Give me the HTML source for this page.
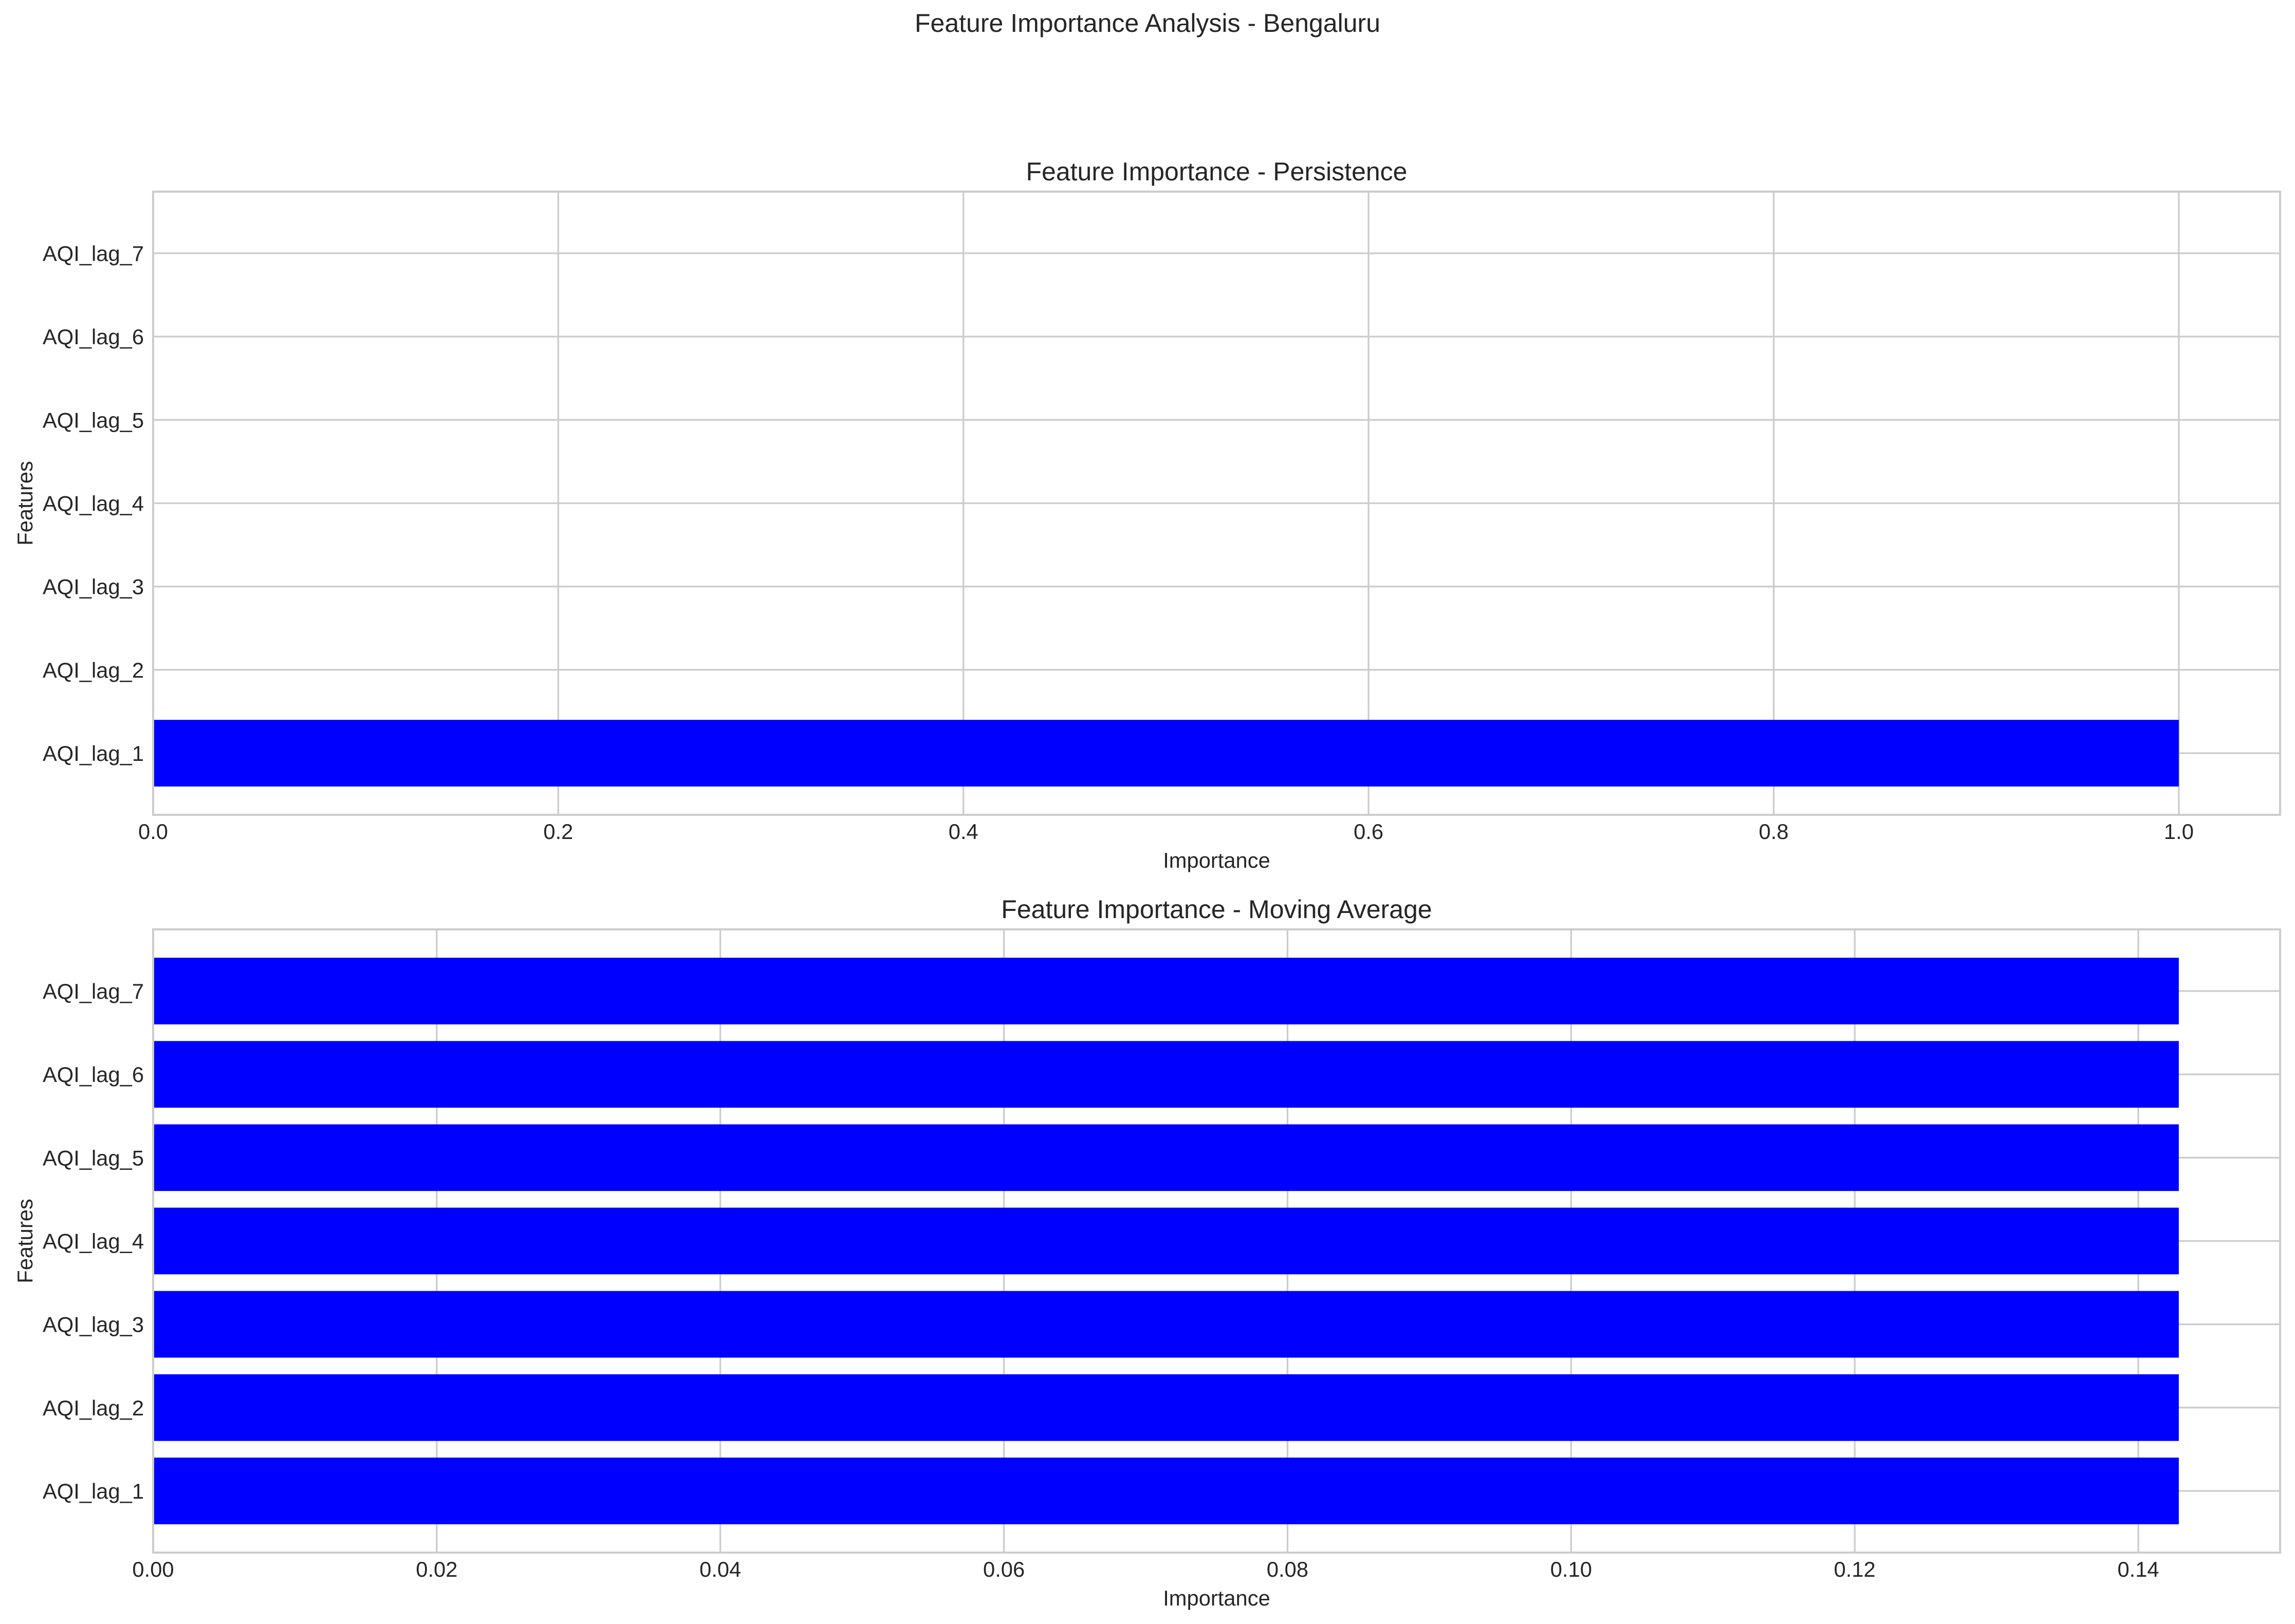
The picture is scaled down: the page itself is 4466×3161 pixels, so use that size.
<!DOCTYPE html>
<html><head><meta charset="utf-8"><style>
html,body{margin:0;padding:0;background:#fff;}
svg{display:block;font-family:"Liberation Sans",sans-serif;}
</style></head><body>
<svg id="fig" width="4466" height="3161" viewBox="0 0 4466 3161" xmlns="http://www.w3.org/2000/svg">
<rect width="4466" height="3161" fill="#fff"/>
<text x="2233" y="62" text-anchor="middle" font-size="50" fill="#262626">Feature Importance Analysis - Bengaluru</text>
</svg>
<script>
const categories = ["AQI_lag_1","AQI_lag_2","AQI_lag_3","AQI_lag_4","AQI_lag_5","AQI_lag_6","AQI_lag_7"];
const persistenceValues = [1.0,0,0,0,0,0,0];
const movingAvgValues = [0.142857,0.142857,0.142857,0.142857,0.142857,0.142857,0.142857];
const persistenceTicks = [0.0,0.2,0.4,0.6,0.8,1.0];
const persistenceTickLabels = ["0.0","0.2","0.4","0.6","0.8","1.0"];
const movingAvgTicks = [0,0.02,0.04,0.06,0.08,0.10,0.12,0.14];
const movingAvgTickLabels = ["0.00","0.02","0.04","0.06","0.08","0.10","0.12","0.14"];

const NS="http://www.w3.org/2000/svg";
const svg=document.getElementById('fig');
function mk(tag,attrs,parent){const e=document.createElementNS(NS,tag);for(const k in attrs)e.setAttribute(k,attrs[k]);(parent||svg).appendChild(e);return e;}

function panel(id,title,vals,ticks,tickLabels,xmax,top,bottom){
  const L=298,R=4437;
  const g=mk('g',{});
  
  
  const ymin=-0.74,ymax=categories.length-1+0.74;
  const xs=v=>L+(v/xmax)*(R-L);
  const ys=v=>bottom-(v-ymin)/(ymax-ymin)*(bottom-top);
  ticks.forEach((t,i)=>{
    const l=mk('line',{x1:xs(t),x2:xs(t),y1:top,y2:bottom,stroke:'#cccccc','stroke-width':3.3},g);
    
    
    const tx=mk('text',{x:xs(t),y:bottom+47,'text-anchor':'middle','font-size':41.7,fill:'#262626'},g);
    tx.textContent=tickLabels[i];
    
    
  });
  categories.forEach((c,i)=>{
    const l=mk('line',{x1:L,x2:R,y1:ys(i),y2:ys(i),stroke:'#cccccc','stroke-width':3.3},g);
    
    
  });
  categories.forEach((c,i)=>{
    const y0=ys(i+0.4),y1=ys(i-0.4);
    const b=mk('rect',{x:xs(0),y:y0,width:Math.max(0,xs(vals[i])-xs(0)),height:y1-y0,fill:'#0000ff'},g);
    
    
    const tx=mk('text',{x:L-18,y:ys(i)+15,'text-anchor':'end','font-size':41.7,fill:'#262626'},g);
    tx.textContent=c;
    
    
  });
  const fr=mk('rect',{x:L,y:top,width:R-L,height:bottom-top,fill:'none',stroke:'#cccccc','stroke-width':4},g);
  
  
  const t=mk('text',{x:(L+R)/2,y:top-22,'text-anchor':'middle','font-size':50,fill:'#262626'},g);
  t.textContent=title;
  
  
  const xl=mk('text',{x:(L+R)/2,y:bottom+103,'text-anchor':'middle','font-size':41.7,fill:'#262626'},g);
  xl.textContent='Importance';
  
  
  const cy=(top+bottom)/2;
  const yl=mk('text',{x:63,y:cy,'text-anchor':'middle','font-size':41.7,fill:'#262626',transform:'rotate(-90 63 '+cy+')'},g);
  yl.textContent='Features';
  
  
}
panel('persistence','Feature Importance - Persistence',persistenceValues,persistenceTicks,persistenceTickLabels,1.05,373,1586);
panel('moving-average','Feature Importance - Moving Average',movingAvgValues,movingAvgTicks,movingAvgTickLabels,0.15,1809,3022);
</script>
</body></html>
